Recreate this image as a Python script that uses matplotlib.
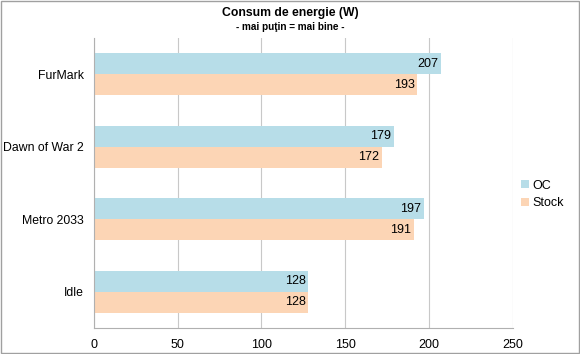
import matplotlib.pyplot as plt
import numpy as np
from matplotlib.patches import Rectangle

plt.rcParams['font.family'] = ['Liberation Sans', 'DejaVu Sans']

categories = ['FurMark', 'Dawn of War 2', 'Metro 2033', 'Idle']
oc_values = [207, 179, 197, 128]
stock_values = [193, 172, 191, 128]

fig = plt.figure(figsize=(5.8, 3.54), dpi=100)
ax = fig.add_axes([0.162, 0.073, 0.722, 0.82])

n = len(categories)
y = np.arange(n)[::-1]  # FurMark on top
h = 0.29

bars_oc = ax.barh(y + h / 2, oc_values, h, color='#b7dde8', label='OC', zorder=2)
bars_st = ax.barh(y - h / 2, stock_values, h, color='#fcd5b5', label='Stock', zorder=2)

for bars in (bars_oc, bars_st):
    for bar in bars:
        w = bar.get_width()
        ax.text(w - 1.5, bar.get_y() + bar.get_height() / 2, f'{int(w)}',
                ha='right', va='center', fontsize=9, color='#000000', zorder=3)

ax.set_xlim(0, 250)
ax.set_ylim(-0.5, n - 0.5)
ax.set_xticks(np.arange(0, 251, 50))
ax.set_yticks(y)
ax.set_yticklabels(categories, fontsize=8.8)
ax.tick_params(axis='x', labelsize=9, length=0, pad=8)
ax.tick_params(axis='y', length=0, pad=7)
ax.grid(axis='x', color='#c8c8c8', linewidth=0.8, zorder=0)
for s in ['top', 'right']:
    ax.spines[s].set_visible(False)
ax.spines['left'].set_color('#b0b0b0')
ax.spines['bottom'].set_color('#b0b0b0')

fig.text(0.5, 0.962, 'Consum de energie (W)', ha='center', va='center',
         fontsize=8.8, fontweight='bold')
fig.text(0.5, 0.925, '- mai puţin = mai bine -', ha='center', va='center',
         fontsize=7.2, fontweight='bold')

ax.legend(loc='center left', bbox_to_anchor=(1.0, 0.46), frameon=False,
          fontsize=9, handlelength=0.6, handleheight=0.6, handletextpad=0.3,
          labelspacing=0.45, borderaxespad=0.3)

fig.patches.append(Rectangle((0.002, 0.003), 0.996, 0.994, transform=fig.transFigure,
                             fill=False, edgecolor='#a0a0a0', linewidth=1))

fig.savefig('out.png', dpi=100)
